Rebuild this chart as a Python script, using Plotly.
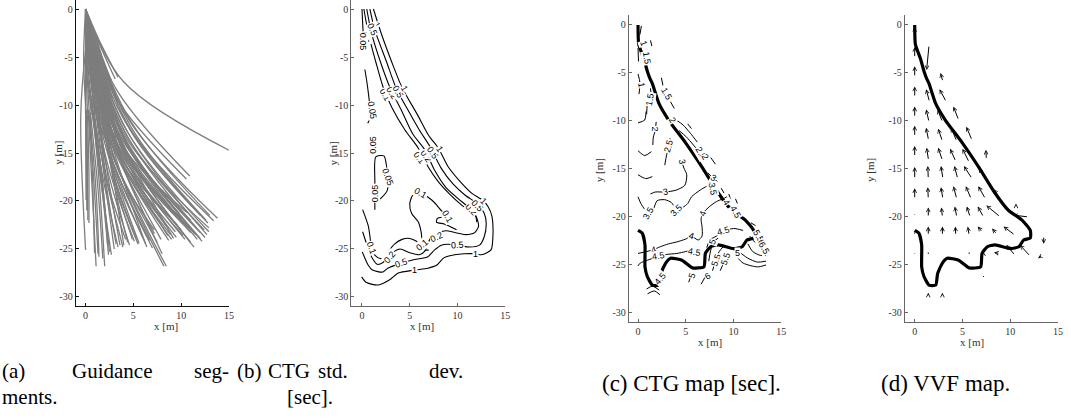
import plotly.graph_objects as go

W, H = 1071, 419
SERIF = "Liberation Serif"
SANS = "Liberation Sans"

# ---------------- (a) guidance segments: start / bend / end points [m] ----------------
SEG_X0 = [0, 0, 0, 0, 0, 0.2, 0.2, 0.3, 0.3, 0.5, 0.5, 0.6, 0.6, 0.8, 0.8, 1.0, 1.0, 0, 0.2, 0.2,
          0.5, 0.5, 0.5, 0.6, 0.7, 0.5, 0.5, 0.6, 0.8, 0.3, 0.5, 0.1, 0.1, 0, 0, 0, 0.3, 0.4, 0.5,
          0.7, 1.0, 1.2, 0.3, 0.2, 1.5, 1.8, 2.0, 1.2, 1.4, 0.9, 0.4, 0.3,
          0.2, 0.4, 0.6, 0.8, 0.9, 1.1, 1.3, 1.4, 1.6, 1.0, 0.7,
          1.0, 1.2, 1.3, 1.5, 1.6, 1.8, 1.1, 0.9, 0.7, 0.5, 0.3, 0.4, 0.3, 0.2, 0.1, 0.2, 0.05,
          2.2, 2.4, 1.9, 0.1, 0.3]
SEG_Y0 = [0, -0.5, -1, -0.5, -1, -2, -2.5, -3, -3.5, -4, -4.5, -5, -5.5, -6, -6.5, -7, -7.5, -3, -4, -4.5,
          -6, -6.5, -7, -8, -8.5, -9, -9.5, -10, -11, -11, -11, -11, -10.5, -10, -4.3, 0, -2, -2.5, -3,
          -5, -5.5, -6, -1.5, -1, -8, -9, -10, -10, -11, -10.5, -11, -8,
          -1.5, -2.0, -3.0, -3.5, -4.0, -4.5, -5.0, -6.0, -6.5, -2.5, -2.0,
          -7.5, -8.0, -8.5, -9.0, -9.5, -10.0, -9.0, -9.5, -10.5, -10.8, -10.5, -9.0, -8.5, -6.0, -5.0, -11, -11,
          -8.5, -9.5, -7.0, -2.0, -4.0]
SEG_XM = [4.0, 3.3, 3.0, 4.5, 4.3, 4.5, 4.5, 4.3, 4.0, 4.5, 4.8, 4.6, 4.3, 4.3, 4.0, 4.0, 3.8, 2.8, 2.8, 2.9,
          2.7, 2.7, 2.6, 2.4, 2.3, 2.0, 1.8, 1.6, 1.5, 0.7, 0.75, 0.2, 0.15, 0.02, -0.5, -0.2, 3.8, 3.6, 3.5,
          3.4, 3.6, 3.7, 4.8, 4.5, 3.6, 3.3, 3.0, 2.3, 2.2, 1.8, 1.1, 1.6,
          4.2, 4.0, 4.1, 3.9, 3.8, 3.9, 3.9, 3.7, 3.6, 4.6, 4.7,
          2.9, 2.9, 2.8, 2.8, 2.8, 2.9, 2.3, 2.0, 1.7, 1.3, 0.9, 3.1, 3.4, 3.6, 3.3, 0.35, 0.1,
          4.3, 4.0, 4.6, 3.4, 2.9]
SEG_YM = [-7.6, -8.5, -9.0, -11.5, -12.0, -13.0, -13.5, -14.0, -14.5, -13.8, -14.0, -14.5, -14.8, -15.0, -15.5,
          -15.8, -16.0, -14, -15, -15.2, -15.5, -15.5, -16, -16.5, -16.8, -17, -17.5, -18, -19, -19, -18, -16.5,
          -15.5, -15, -11, -5, -13.5, -14, -14.5, -15, -14.5, -14.0, -11.8, -12.2, -15.5, -16.5, -17.5, -18,
          -18.5, -18.5, -19, -16.5,
          -12.5, -13.2, -13.8, -14.2, -14.6, -14.4, -14.7, -15.3, -15.6, -12.5, -12.2,
          -16.2, -16.5, -16.8, -17.0, -17.3, -17.6, -17.2, -17.8, -18.5, -18.8, -18.5, -16.0, -15.6, -15.0,
          -14.8, -17, -16,
          -15.8, -16.6, -14.6, -12.8, -14.6]
SEG_X1 = [15, 10.9, 10.55, 13.8, 13.4, 12.7, 12.5, 12.2, 11.35, 12.9, 12.4, 12.0, 11.5, 11.0, 10.2, 9.5, 9.0,
          8.7, 8.2, 8.45, 7.0, 6.7, 5.97, 5.1, 4.6, 3.9, 3.4, 2.7, 2.0, 1.1, 0.94, 0.24, 0.19, 0.05, 0, 0,
          11.0, 10.5, 10.0, 9.6, 10.0, 10.6, 13.0, 12.8, 8.0, 7.2, 5.5, 4.2, 3.2, 2.5, 1.4, 2.3,
          12.9, 12.0, 11.7, 11.0, 10.4, 10.8, 10.2, 9.4, 8.9, 12.0, 12.6,
          6.3, 5.6, 5.3, 4.9, 4.4, 4.0, 3.6, 3.0, 2.4, 1.8, 1.3, 7.5, 7.9, 8.6, 8.0, 0.35, 0.14,
          8.4, 7.2, 9.8, 9.2, 6.4]
SEG_Y1 = [-14.7, -17.4, -17.7, -21.8, -22.05, -23.5, -23.8, -24.2, -24.8, -22.8, -23.0, -23.3, -23.5, -23.3,
          -23.6, -23.8, -24.0, -24.1, -26.8, -26.8, -24.9, -24.1, -23.7, -24.2, -24.6, -24.8, -24.8, -25.6,
          -26.8, -26.8, -25.4, -22, -20.9, -19.9, -25.1, -10, -22.0, -22.5, -23.0, -22.5, -21.8, -21.2, -21.5,
          -22.3, -22.0, -23.0, -24.5, -24.0, -24.5, -25.3, -25.8, -24.5,
          -23.2, -23.9, -24.0, -24.3, -24.0, -22.8, -22.4, -23.2, -23.5, -21.5, -22.0,
          -24.5, -24.4, -23.9, -24.0, -24.3, -24.6, -24.6, -25.0, -25.6, -26.0, -25.5, -24.3, -24.0, -23.6,
          -25.5, -22.3, -21.0,
          -22.6, -23.4, -21.3, -23.9, -24.8]
# short segments filling the start region, all leaving the origin
FAN_MID_X = [0.0, 0.05, 0.1, 0.15, 0.2, 0.3, 0.35, 0.45, 0.5, 0.6, 0.7, 0.8, 0.9, 1.0, 1.1, 1.2,
             0.25, 0.4, 0.55, 0.75, 0.95, 1.15, 1.3, 1.4]
FAN_MID_Y = [-5.5, -5.5, -5.5, -5.5, -5.4, -5.4, -5.3, -5.2, -5.1, -5.0, -4.9, -4.8, -4.7, -4.5, -4.3, -4.1,
             -4.0, -3.9, -3.8, -3.7, -3.6, -3.4, -3.3, -3.2]
FAN_END_X = [0.0, 0.2, 0.4, 0.6, 0.8, 1.0, 1.2, 1.4, 1.6, 1.8, 2.0, 2.2, 2.4, 2.6, 2.8, 3.0,
             0.7, 1.1, 1.5, 1.9, 2.3, 2.7, 3.1, 3.4]
FAN_END_Y = [-11, -11, -11, -11, -11, -11, -10.9, -10.8, -10.7, -10.5, -10.3, -10.1, -9.9, -9.6, -9.3, -9.0,
             -8.5, -8.3, -8.1, -7.9, -7.7, -7.5, -7.3, -7.1]

# ---------------- (b) CTG std. dev. contours [sec] ----------------
B_LINES = [
    ([1.2, 2.0, 3.3, 4.2, 5.8, 7.0, 8.0, 9.0, 10.3, 11.5, 12.6, 13.2, 13.6, 13.7, 13.5, 12.5, 11.9, 10.7,
      9.7, 8.6, 7.8, 6.9, 5.5, 3.8, 2.9, 1.7, 0.48, -0.04],
     [0, -2.5, -6.0, -8.2, -11.0, -13.2, -14.5, -16.4, -18.0, -19.2, -19.9, -20.6, -21.6, -23.7, -25.1,
      -25.6, -25.5, -25.5, -25.6, -25.9, -26.7, -27.0, -27.2, -27.5, -28.2, -28.75, -28.5, -27.9]),
    ([0.83, 1.35, 2.57, 3.6, 4.8, 6.0, 7.1, 8.3, 9.5, 10.8, 12.1, 12.8, 13.0, 12.8, 12.3, 11.25, 10.0,
      9.0, 8.3, 7.6, 6.9, 5.5, 4.1, 2.7, 2.2, 1.1, 0.66, 0.03],
     [0, -2.2, -5.5, -8.3, -10.5, -12.6, -14.3, -16.6, -18.2, -19.4, -20.3, -21.3, -22.3, -23.7, -24.6,
      -24.8, -24.6, -24.5, -24.6, -25.1, -25.8, -26.1, -26.5, -27.0, -27.4, -27.2, -26.7, -25.3]),
    ([0.5, 1.0, 2.0, 2.9, 4.1, 5.3, 6.6, 7.6, 8.8, 10.0, 11.2, 11.9, 12.2, 11.8, 10.8, 9.8, 8.8, 8.0,
      7.3, 6.9, 6.6, 6.0, 5.0, 4.0, 3.3, 2.8, 2.2, 1.6, 1.1, 0.6, 0.07],
     [0, -2.5, -5.7, -8.1, -10.5, -13.0, -14.7, -16.8, -18.6, -19.7, -20.7, -21.5, -22.6, -23.3, -23.5,
      -23.3, -23.1, -23.3, -23.7, -24.4, -25.2, -25.6, -25.4, -25.0, -25.3, -25.8, -26.4, -26.6, -26.0,
      -24.8, -23.2]),
    ([0.2, 0.66, 1.5, 2.2, 3.1, 4.5, 5.9, 6.9, 8.0, 9.2, 10.4, 11.3, 11.9, 12.0],
     [0, -2.5, -5.7, -8.1, -10.2, -12.6, -14.5, -16.4, -18.0, -19.3, -20.4, -21.1, -21.6, -22.2]),
    ([0.0, 0.1, 0.2], [0, -2.0, -4.0]),
    ([0.3, 0.5, 0.7, 0.85, 0.75, 0.6], [-6.3, -7.5, -9.0, -10.5, -11.6, -11.9]),
    ([1.0, 1.1, 1.4, 1.45, 1.2], [-13.9, -13.3, -13.4, -14.3, -14.9]),
    ([1.35, 1.35, 1.45, 2.3, 2.55, 2.7, 2.65, 2.0, 1.45],
     [-20.9, -18.0, -15.4, -15.3, -16.2, -17.6, -18.9, -19.7, -20.1]),
    ([6.3, 6.2, 5.9, 5.2, 5.0, 5.3, 5.8, 6.6, 7.3, 7.8, 8.3, 8.8, 7.9, 7.8, 8.6, 9.3, 9.9],
     [-24.4, -23.3, -22.2, -21.3, -20.3, -19.4, -19.1, -19.4, -19.9, -20.4, -21.0, -21.6, -21.8, -22.2,
      -22.4, -22.7, -23.0]),
    ([0.07, 0.66, 0.85, 1.0, 1.4, 1.9, 2.3, 2.8, 3.4, 4.2, 5.0, 5.7, 6.2, 6.5, 7.0],
     [-20.9, -22.6, -23.8, -25.0, -25.7, -26.0, -25.9, -25.2, -24.5, -24.0, -23.9, -24.2, -24.7, -25.1, -25.1]),
]
B_LABELS = [
    ("1", 1.55, -1.7, 60), ("0.5", 1.05, -2.1, 65), ("0.1", 0.35, -3.0, 80), ("0.05", 0.1, -3.4, 90),
    ("0.1", 2.4, -9.0, 60), ("0.2", 3.1, -8.8, 60), ("0.5", 3.8, -8.6, 60), ("1", 4.5, -8.3, 60),
    ("0.1", 6.0, -15.5, 55), ("0.2", 6.7, -15.3, 55), ("0.5", 7.4, -15.0, 55), ("1", 8.1, -14.6, 55),
    ("0.2", 11.5, -20.9, 45), ("0.5", 12.1, -20.5, 45), ("1", 12.7, -20.0, 45),
    ("0.5", 10.0, -24.6, -5), ("1", 11.9, -25.5, 0), ("1", 5.5, -27.2, 0), ("0.5", 4.1, -26.5, -20),
    ("0.2", 2.9, -25.8, -50), ("0.1", 1.0, -24.9, 70), ("0.2", 7.8, -23.7, -25), ("0.1", 6.3, -24.6, -40),
    ("0.05", 1.1, -10.6, 80), ("0.05", 1.2, -14.1, -90), ("0.05", 2.7, -17.5, 70), ("0.05", 1.35, -19.2, -90),
    ("0.1", 6.1, -19.2, 30), ("0.1", 8.9, -21.6, 60),
]

# ---------------- vehicle path shown in (c) and (d) ----------------
PATH_X = [0, 0.07, 0.6, 1.0, 1.3, 1.5, 2.2, 3.2, 5.0, 6.7, 8.4, 9.8, 11.2, 12.1, 12.1, 11.4, 10.9, 10.0,
          8.4, 7.6, 7.05, 6.9, 5.7, 4.6, 3.4, 2.9, 2.4, 2.2, 1.5, 0.97, 0.73, 0.73, 0.45, 0]
PATH_Y = [0, -2.0, -3.5, -4.9, -5.7, -6.1, -8.2, -9.9, -12.3, -14.8, -17.5, -19.3, -20.3, -21.4, -22.2,
          -22.4, -23.1, -23.3, -22.9, -23.1, -23.8, -25.2, -25.3, -24.5, -24.3, -24.8, -25.9, -27.1, -27.1,
          -26.2, -25.2, -22.9, -21.7, -21.4]

# ---------------- (c) CTG map contours [sec] ----------------
C_LINES = [
    ([0.0, 0.2, 0.1], [-5.1, -6.0, -7.2]),
    ([0.0, 0.05], [-2.4, -3.8]),
    ([0.35, 0.2], [-0.1, -1.0]),
    ([1.3, 1.45], [-1.6, -2.2]),
    ([2.45, 2.6], [-5.5, -6.3]),
    ([3.4, 3.8], [-8.0, -8.7]),
    ([1.3, 1.35], [-6.6, -7.0]),
    ([0.95, 0.9], [-8.4, -9.3]),
    ([0.0, 0.7, 0.85], [-10.2, -9.9, -9.0]),
    ([1.9, 1.8, 1.6, 1.55], [-10.1, -11.0, -11.7, -12.5]),
    ([4.0, 4.7, 5.5, 6.2], [-9.9, -10.4, -11.3, -12.2]),
    ([4.3, 5.0, 5.8, 6.4], [-11.0, -11.6, -12.5, -13.2]),
    ([0.0, 0.7, 1.4], [-13.1, -13.6, -13.2]),
    ([3.35, 3.25, 3.0, 2.8], [-11.8, -12.6, -13.5, -14.6]),
    ([0.0, 0.8, 1.5], [-15.6, -16.0, -15.8]),
    ([1.3, 1.8, 2.85, 4.0, 4.9, 5.1, 4.8, 4.6], [-17.6, -17.4, -17.4, -17.2, -16.7, -15.6, -14.9, -14.3]),
    ([7.3, 7.9, 8.3], [-15.4, -16.0, -16.3]),
    ([0.0, 0.3, 0.7, 1.1, 1.6, 2.0, 2.8, 3.5, 4.06, 4.7, 5.2, 5.6, 6.5, 7.35],
     [-17.9, -18.6, -19.2, -19.6, -19.2, -18.3, -18.2, -18.5, -19.3, -19.0, -18.6, -17.9, -17.2, -16.7]),
    ([0.0, 0.9, 1.63, 2.33, 3.2, 4.06, 5.0, 5.6, 6.3, 6.7, 6.7, 6.6, 6.8, 7.5, 8.2, 8.9, 9.3],
     [-23.8, -23.6, -23.4, -23.1, -22.8, -22.6, -22.3, -22.0, -22.4, -22.0, -21.0, -20.2, -19.6, -18.9,
      -18.4, -18.1, -17.9]),
    ([0.0, 0.24, 1.0, 2.15, 3.0, 4.06, 5.0, 5.8, 6.3], [-25.1, -24.8, -24.5, -24.1, -23.9, -23.8, -23.6, -23.4, -23.5]),
    ([7.2, 7.5, 8.2, 8.9, 10.0, 11.0], [-23.2, -22.4, -22.0, -21.5, -21.2, -21.4]),
    ([7.4, 7.6, 8.0, 8.4], [-24.6, -23.5, -22.5, -22.2]),
    ([7.8, 8.1, 8.5, 9.0], [-25.6, -24.6, -23.6, -23.0]),
    ([8.6, 9.0, 9.5], [-25.6, -24.7, -23.8]),
    ([5.3, 5.6], [-26.8, -26.0]),
    ([6.6, 7.0], [-27.0, -26.3]),
    ([0.9, 1.5, 2.2], [-27.5, -27.2, -27.6]),
    ([1.0, 1.7, 2.3], [-28.0, -27.7, -28.1]),
    ([11.7, 12.2, 12.9, 13.4], [-22.0, -22.6, -23.0, -23.1]),
    ([11.5, 12.0, 12.8, 13.4], [-22.8, -23.6, -24.0, -24.0]),
    ([10.8, 11.5, 12.5, 13.4], [-23.8, -24.3, -24.7, -24.6]),
    ([10.3, 11.0, 12.5, 13.4], [-24.1, -24.8, -25.2, -25.0]),
    ([8.7, 9.0], [-17.0, -17.5]), ([9.5, 9.7], [-17.6, -18.2]), ([10.2, 10.4], [-18.1, -18.6]),
    ([11.8, 12.3], [-20.6, -20.9]), ([7.6, 8.1], [-13.8, -14.5]), ([5.2, 5.6], [-10.3, -10.8]),
]
C_LABELS = [
    ("1", 0.3, -6.3, 80), ("1", 0.55, -1.9, 70), ("1.5", 0.95, -3.4, 80), ("1.5", 3.0, -7.2, 60),
    ("1.5", 1.25, -7.7, -80), ("2", 1.8, -10.8, 90), ("2", 3.6, -9.9, 60), ("2.5", 3.2, -12.6, -75),
    ("2.5", 6.6, -13.3, 60), ("2", 7.0, -13.8, 60), ("3", 2.85, -17.4, -10), ("3", 4.6, -14.3, 80),
    ("3", 7.9, -15.9, 30), ("3.5", 1.1, -19.6, -60), ("3.5", 4.06, -19.3, -45), ("3.5", 7.8, -17.1, 80),
    ("4", 1.63, -23.4, -15), ("4", 5.6, -22.0, 15), ("4", 6.8, -19.6, -70), ("4", 9.3, -18.5, 60),
    ("4.5", 2.15, -24.1, -10), ("4.5", 5.9, -23.6, 10), ("4.5", 8.9, -21.5, -15), ("4.5", 10.2, -19.5, 60),
    ("5", 7.8, -22.6, -70), ("5.5", 8.2, -24.5, -70), ("5.5", 9.2, -24.3, -70), ("5", 10.4, -23.8, 0),
    ("6", 7.3, -26.1, -30), ("5", 5.6, -26.1, -70), ("4.5", 2.4, -26.4, -50),
    ("5.5", 12.6, -22.0, 60), ("6", 12.9, -22.6, 60), ("6.5", 13.2, -23.2, 60),
]

# ---------------- (d) velocity vector field: arrow tails [m] and components [m] ----------------
Q_X = [0, 0, 1.5, 0, 2.95, 0, 1.55, 3.3, 0, 1.5, 2.9, 4.6, 0, 1.45, 2.9, 4.4, 6.0,
       0, 1.45, 2.9, 4.3, 5.7, 7.5,
       0, 1.42, 2.95, 4.5, 6.0, 7.4,
       0, 1.42, 2.95, 4.4, 5.9, 7.4, 8.7,
       0, 1.42, 2.9, 4.4, 5.8, 7.2, 8.96, 11.9, 10.6,
       0, 1.42, 2.9, 4.3, 5.7, 7.1, 8.6, 10.5, 13.5,
       0, 1.42, 2.9, 4.3, 5.7, 7.2, 8.9, 10.5, 12.1, 13.4,
       0, 1.42, 2.9, 4.3, 5.7, 7.2,
       1.42, 2.9]
Q_Y = [-1.3, -3.4, -2.1, -5.4, -5.9, -7.5, -8.0, -8.0, -9.6, -10.1, -10.1, -9.9, -11.6, -12.0, -12.1, -12.1, -12.0,
       -13.7, -14.1, -14.1, -14.2, -14.3, -14.0,
       -16.0, -16.0, -16.0, -16.0, -16.0, -16.0,
       -18.1, -18.1, -18.1, -18.1, -18.1, -18.1, -17.7,
       -19.9, -20.0, -20.0, -20.0, -20.0, -20.0, -20.0, -20.0, -19.0,
       -21.9, -21.9, -21.9, -21.9, -21.9, -21.6, -21.8, -21.9, -22.0,
       -24.0, -24.0, -24.0, -24.0, -24.0, -24.0, -23.8, -24.0, -24.1, -24.0,
       -26.0, -26.0, -26.0, -26.0, -26.0, -26.0,
       -28.3, -28.3]
Q_U = [0, 0, -0.25, 0, -0.25, 0, -0.35, -0.7, 0, -0.3, -0.5, -0.55, 0, -0.25, -0.45, -0.6, -0.6,
       0, -0.2, -0.45, -0.6, -0.7, -0.05,
       0, -0.05, -0.2, -0.35, -0.85, -0.7,
       0, -0.05, -0.2, -0.35, -0.55, -0.75, -0.45,
       0, 0, -0.1, -0.2, -0.35, -0.6, -1.46, -1.6, 0,
       0, 0, 0, -0.05, -0.15, -0.5, -0.5, -1.2, 0,
       0, 0, 0, 0, 0, -0.05, -0.6, -0.9, -1.1, -0.5,
       0, 0, 0, 0, 0.05, 0,
       0, 0]
Q_V = [1.1, 1.1, -2.6, 1.1, 0.9, 1.1, 1.3, 1.3, 1.1, 1.3, 1.3, 1.4, 1.1, 1.3, 1.3, 1.4, 1.4,
       1.1, 1.3, 1.3, 1.3, 1.4, 1.0,
       1.2, 1.3, 1.3, 1.3, 1.3, 1.1,
       1.1, 1.2, 1.2, 1.3, 1.3, 1.3, 0.6,
       0.2, 1.0, 1.0, 1.1, 1.1, 1.1, 1.2, 0.2, 0.4,
       0.3, 0.9, 0.9, 0.9, 0.9, 0.6, 0.6, 0.9, -0.8,
       0.2, 0.3, 0.15, 0.15, 0.3, 0.4, 0.1, 1.1, 1.2, -0.3,
       0.1, 0.15, 0.15, 0.1, -0.1, -0.25,
       0.4, 0.4]

X_TICKS = [0, 5, 10, 15]
Y_TICKS = [0, -5, -10, -15, -20, -25, -30]

# pixel boxes of the four plot areas: (left, right, top, bottom) and data ranges
PANELS = [
    dict(box=(76, 230, 0, 306), xr=(-1.04, 15), yr=(-30.94, 0.94), col="#111", ytl=(50, 153), xtl=(153, 334)),
    dict(box=(353, 507.7, 0, 306), xr=(-1.11, 15), yr=(-30.94, 0.94), col="#666", ytl=(327, 153), xtl=(424, 334)),
    dict(box=(631.7, 785, 15, 322), xr=(-0.97, 15), yr=(-30.94, 1.04), col="#666", ytl=(602, 170), xtl=(713, 350)),
    dict(box=(909, 1063, 15, 322), xr=(-1.04, 15), yr=(-30.94, 1.04), col="#666", ytl=(882, 170), xtl=(991, 350)),
]

fig = go.Figure()
layout = dict(width=W, height=H, margin=dict(l=0, r=0, t=0, b=0), paper_bgcolor="white",
              plot_bgcolor="white", showlegend=False)
annotations = []

for i, p in enumerate(PANELS):
    n = "" if i == 0 else str(i + 1)
    l, r, t, b = p["box"]
    common = dict(showgrid=False, zeroline=False, showline=True, linecolor=p["col"], linewidth=1,
                  ticks="inside", ticklen=3, tickcolor=p["col"], tickwidth=1,
                  tickfont=dict(family=SERIF, size=10, color="#333"), fixedrange=True)
    layout["xaxis" + n] = dict(domain=[l / W, r / W], range=list(p["xr"]), anchor="y" + n,
                               tickvals=X_TICKS, ticktext=[str(v) for v in X_TICKS], **common)
    layout["yaxis" + n] = dict(domain=[1 - b / H, 1 - t / H], range=list(p["yr"]), anchor="x" + n,
                               tickvals=Y_TICKS, ticktext=[str(v) for v in Y_TICKS], **common)
    annotations.append(dict(text="x [m]", x=p["xtl"][0] / W, y=1 - p["xtl"][1] / H, xref="paper",
                            yref="paper", showarrow=False, font=dict(family=SERIF, size=11, color="#333")))
    annotations.append(dict(text="y [m]", x=p["ytl"][0] / W, y=1 - p["ytl"][1] / H, xref="paper",
                            yref="paper", showarrow=False, textangle=-90,
                            font=dict(family=SERIF, size=11, color="#333")))

# (a) guidance segments
gx, gy = [], []
for x0, y0, xm, ym, x1, y1 in zip(SEG_X0, SEG_Y0, SEG_XM, SEG_YM, SEG_X1, SEG_Y1):
    gx += [x0, xm, x1, None]
    gy += [y0, ym, y1, None]
for xm, ym, xe, ye in zip(FAN_MID_X, FAN_MID_Y, FAN_END_X, FAN_END_Y):
    gx += [0, xm, xe, None]
    gy += [0, ym, ye, None]
fig.add_trace(go.Scatter(x=gx, y=gy, mode="lines", xaxis="x", yaxis="y",
                         line=dict(color="rgb(125,125,125)", width=1.3, shape="spline", smoothing=1.0),
                         hoverinfo="skip"))


def add_contours(lines, xa, ya, width=1.1):
    cx, cy = [], []
    for xs, ys in lines:
        cx += list(xs) + [None]
        cy += list(ys) + [None]
    fig.add_trace(go.Scatter(x=cx, y=cy, mode="lines", xaxis=xa, yaxis=ya,
                             line=dict(color="black", width=width, shape="spline", smoothing=0.7),
                             hoverinfo="skip"))


def add_labels(labels, xa, ya):
    for txt, x, y, ang in labels:
        annotations.append(dict(text=txt, x=x, y=y, xref=xa, yref=ya, showarrow=False, textangle=ang,
                                font=dict(family=SANS, size=9, color="black"),
                                bgcolor="white", borderpad=0))


# (b) standard deviation contours
add_contours(B_LINES, "x2", "y2")
add_labels(B_LABELS, "x2", "y2")

# (c) CTG contours with the path
add_contours(C_LINES, "x3", "y3", width=1.0)
fig.add_trace(go.Scatter(x=PATH_X, y=PATH_Y, mode="lines", xaxis="x3", yaxis="y3",
                         line=dict(color="black", width=3.2, shape="spline", smoothing=0.5), hoverinfo="skip"))
add_labels(C_LABELS, "x3", "y3")

# (d) vector field with the path
fig.add_trace(go.Scatter(x=PATH_X, y=PATH_Y, mode="lines", xaxis="x4", yaxis="y4",
                         line=dict(color="black", width=3.2, shape="spline", smoothing=0.5), hoverinfo="skip"))
for x, y, u, v in zip(Q_X, Q_Y, Q_U, Q_V):
    big = (u * u + v * v) ** 0.5 > 0.35
    annotations.append(dict(x=x + u, y=y + v, ax=x, ay=y, xref="x4", yref="y4", axref="x4", ayref="y4",
                            showarrow=True, arrowhead=5 if big else 0, arrowsize=0.75, arrowwidth=1.0,
                            arrowcolor="black", text=""))

# sub-figure captions
CAP = dict(family=SERIF, size=21, color="black")
CAP_CD = dict(family=SERIF, size=23, color="black")
captions = [
    ("(a)", 0, 371, "left", CAP), ("Guidance", 113, 371, "center", CAP), ("seg-", 232, 371, "right", CAP),
    ("ments.", 0, 397, "left", CAP),
    ("(b)", 236, 371, "left", CAP), ("CTG", 290, 371, "center", CAP), ("std.", 335, 371, "center", CAP),
    ("dev.", 467, 371, "right", CAP), ("[sec].", 286, 397, "left", CAP),
    ("(c) CTG map [sec].", 695, 383, "center", CAP_CD), ("(d) VVF map.", 950, 383, "center", CAP_CD),
]
for txt, x, y, anc, f in captions:
    annotations.append(dict(text=txt, x=x / W, y=1 - y / H, xref="paper", yref="paper", showarrow=False,
                            xanchor=anc, yanchor="middle", font=f))

layout["annotations"] = annotations
fig.update_layout(**layout)
fig.write_html("out.html")
